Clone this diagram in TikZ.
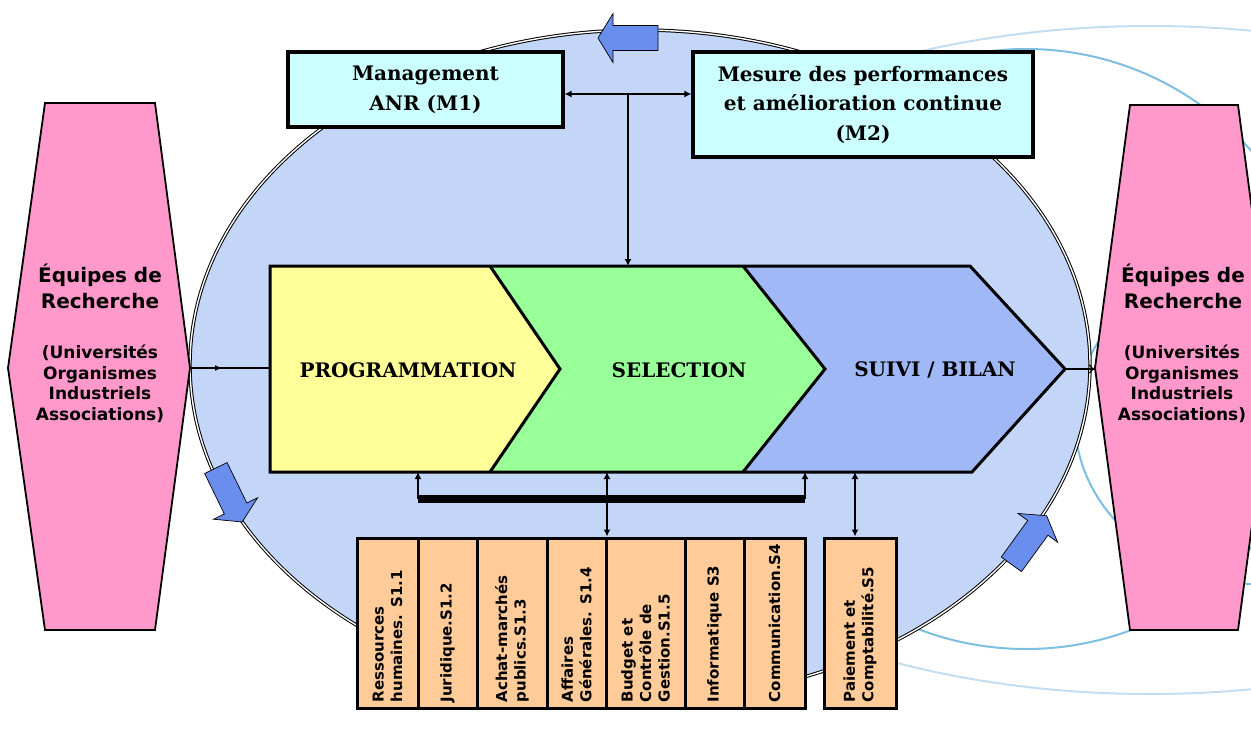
\documentclass[tikz,border=0pt]{standalone}
\usepackage{fontspec}
\setmainfont{DejaVu Serif}
\setsansfont{DejaVu Sans}
\usetikzlibrary{arrows.meta,decorations.markings}
\definecolor{ringblue}{RGB}{125,190,225}
\definecolor{ringpale}{RGB}{195,222,238}
\definecolor{bgblue}{RGB}{196,214,247}
\definecolor{pinkfill}{RGB}{255,153,204}
\definecolor{cyanfill}{RGB}{204,255,255}
\definecolor{yellowfill}{RGB}{255,255,153}
\definecolor{greenfill}{RGB}{153,255,153}
\definecolor{stageblue}{RGB}{160,184,245}
\definecolor{arrowblue}{RGB}{106,142,238}
\definecolor{peachfill}{RGB}{255,204,153}
\tikzset{
  ring/.style={draw=ringblue, line width=2pt},
  bigring/.style={fill=bgblue, draw=black, double=white, double distance=1.4pt, line width=1pt},
  bluearrow/.style={fill=arrowblue, draw=black, line width=0.7pt, line join=miter},
  pinkshape/.style={fill=pinkfill, draw=black, line width=1.8pt},
  eqtitle/.style={font=\sffamily\bfseries\fontsize{20}{26}\selectfont, align=center},
  eqsub/.style={font=\sffamily\bfseries\fontsize{17}{20.5}\selectfont, align=center},
  mbox/.style={draw=black, line width=3.3pt, fill=cyanfill, align=center, inner sep=0pt,
    font=\bfseries\fontsize{20}{30}\selectfont},
  stage/.style={draw=black, line width=3pt, line join=miter},
  stagelabel/.style={font=\bfseries\fontsize{20}{22}\selectfont},
  peachbox/.style={draw=black, line width=3pt, fill=peachfill, minimum height=170pt, inner sep=0pt},
  svctext/.style={rotate=90, anchor=west, align=left, inner xsep=7pt, inner ysep=0pt,
    font=\sffamily\bfseries\fontsize{15}{18.5}\selectfont},
  link/.style={line width=1.2pt},
  leg/.style={line width=2.8pt},
  ltip/.tip={Latex[length=7pt,width=7pt]},
  midarrow/.style={postaction={decorate}, decoration={markings,
    mark=at position 0.4 with {\arrow{Latex[length=7pt,width=6pt]}}}}
}
\newcommand{\ringarrow}[3]{%
  \begin{scope}[shift={(#1,#2)},rotate=#3]
    \draw[bluearrow] (-30,-12.5) -- (15,-12.5) -- (15,-24.5) -- (30,0) -- (15,24.5) -- (15,12.5) -- (-30,12.5) -- cycle;
  \end{scope}}
\begin{document}
\begin{tikzpicture}[x=1pt,y=-1pt]
  \useasboundingbox (0,0) rectangle (1251,729);
  % rings in the background
  \draw[ring, draw=ringpale] (1150,360) ellipse [x radius=600pt, y radius=334pt];
  \draw[ring] (1026,349) circle [radius=300pt];
  \draw[ring] (1270,420) ellipse [x radius=195pt, y radius=165pt];
  \draw[bigring] (640,365) ellipse [x radius=450pt, y radius=335pt];
  \ringarrow{628}{38}{180}
  \ringarrow{229}{495}{-64}
  \ringarrow{1029}{540}{54}

  % research teams
  \draw[pinkshape] (45,103) -- (155,103) -- (190,368) -- (155,630) -- (45,630) -- (8,368) -- cycle;
  \draw[pinkshape] (1130,105) -- (1238,105) -- (1273,368) -- (1238,630) -- (1130,630) -- (1095,368) -- cycle;
  \node[eqtitle] (eqLtitle) at (100,286) {Équipes de\\Recherche};
  \node[eqsub] (eqLsub) at (100,384) {(Universités\\Organismes\\Industriels\\Associations)};
  \node[eqtitle] (eqRtitle) at (1183,286) {Équipes de\\Recherche};
  \node[eqsub] (eqRsub) at (1182,384) {(Universités\\Organismes\\Industriels\\Associations)};

  % management
  \node[mbox, minimum width=275pt, minimum height=75pt] (mgmt) at (425.5,89.5) {Management\\ANR (M1)};
  \node[mbox, minimum width=340pt, minimum height=105pt, font=\bfseries\fontsize{20}{29.5}\selectfont]
    (perf) at (863,104.5) {Mesure des performances\\et amélioration continue\\(M2)};

  % process
  \fill[yellowfill] (270,266) -- (490,266) -- (560,369) -- (490,472) -- (270,472) -- cycle;
  \fill[greenfill] (490,266) -- (743,266) -- (825,369) -- (743,472) -- (490,472) -- (560,369) -- cycle;
  \fill[stageblue] (743,266) -- (970,266) -- (1065,369) -- (972,472) -- (743,472) -- (825,369) -- cycle;
  \draw[stage] (490,266) -- (560,369) -- (490,472);
  \draw[stage] (743,266) -- (825,369) -- (743,472);
  \draw[stage] (970,266) -- (270,266) -- (270,472) -- (972,472) -- (1065,369) -- cycle;
  \node[stagelabel] (prog) at (408,370) {PROGRAMMATION};
  \node[stagelabel] (sel) at (679,370) {SELECTION};
  \node[stagelabel] (suivi) at (935,370) {SUIVI / BILAN};

  % services
  \foreach \a/\b/\txt [count=\i] in {357/418/{Ressources\\humaines. S1.1}, 418/477/{Juridique.S1.2},
      477/547/{Achat-marchés\\publics.S1.3}, 547/606/{Affaires\\Générales. S1.4},
      606/685/{Budget et\\Contrôle de\\Gestion.S1.5}, 685/744/{Informatique S3}, 744/805/{Communication.S4}}{
    \node[peachbox, minimum width={\b-\a}] (svc\i) at ({(\a+\b)/2},623) {};
    \node[svctext] (svctxt\i) at (svc\i.south) {\txt};
  }
  \node[peachbox, minimum width=72pt] (pay) at (860,623) {};
  \node[svctext] (paytxt) at (pay.south) {Paiement et\\Comptabilité.S5};

  % links
  \coordinate (eqLtip) at (190,368);
  \coordinate (progW) at (270,368);
  \coordinate (suiviTip) at (1065,369);
  \coordinate (eqRtip) at (1095,369);
  \coordinate (junc) at (628,94);
  \coordinate (chevN) at (628,266);
  \coordinate (chevS1) at (418,472);
  \coordinate (chevS2) at (607,472);
  \coordinate (chevS3) at (805,472);
  \coordinate (chevS4) at (855,472);
  \coordinate (barL) at (418,499);
  \coordinate (barR) at (805,499);
  \draw[link, midarrow] (eqLtip) -- (progW);
  \draw[link, -{To[length=6pt,width=9pt]}] (suiviTip) -- (eqRtip);
  \draw[link, ltip-ltip] (mgmt.east |- junc) -- (perf.west |- junc);
  \draw[link, -ltip] (junc) -- (chevN);
  \draw[line width=8pt] (barL) -- (barR);
  \draw[leg, ltip-] (chevS1) -- (barL);
  \draw[leg, ltip-] (chevS3) -- (barR);
  \draw[leg, ltip-ltip] (chevS2) -- (chevS2 |- svc5.north);
  \draw[leg, ltip-ltip] (chevS4) -- (chevS4 |- pay.north);
\end{tikzpicture}
\end{document}
